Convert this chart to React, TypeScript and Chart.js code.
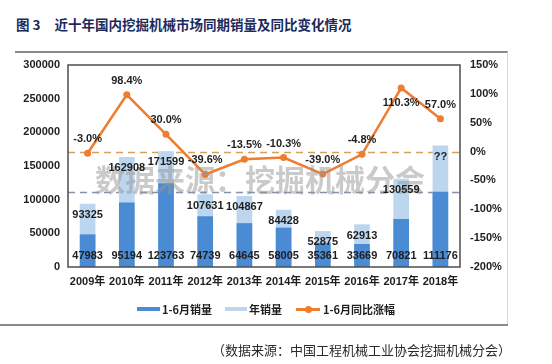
import React, { useEffect, useRef } from "react";
import { Chart, registerables } from "chart.js";

Chart.register(...registerables);

const years = ["2009年", "2010年", "2011年", "2012年", "2013年", "2014年", "2015年", "2016年", "2017年", "2018年"];
const h1Sales = [47983, 95194, 123763, 74739, 64645, 58005, 35361, 33669, 70821, 111176];
const annualSales = [93325, 162908, 171599, 107631, 104867, 84428, 52875, 62913, 130559, 180000];
const annualLabels = ["93325", "162908", "171599", "107631", "104867", "84428", "52875", "62913", "130559", "??"];
const h1Growth = [-3.0, 98.4, 30.0, -39.6, -13.5, -10.3, -39.0, -4.8, 110.3, 57.0];
const leftRefValues = [111176];
const rightRefValues = [0];

const NUM_FONT = "'Liberation Sans', Arial, 'Noto Sans CJK SC', sans-serif";
const CJK_FONT = "'Noto Sans CJK SC', 'Liberation Sans', sans-serif";

const DARK = "#4a8bd3";
const LIGHT = "#bdd6ef";
const ORANGE = "#ed7d31";

const overlayPlugin = {
  id: "overlay",
  beforeDatasetsDraw(chart: any) {
    const { ctx, chartArea: a, scales } = chart;
    ctx.save();
    ctx.setLineDash([7, 5]);
    ctx.lineWidth = 1.6;
    ctx.strokeStyle = "#8592a8";
    leftRefValues.forEach((v) => {
      const y = Math.round(scales.y.getPixelForValue(v)) + 0.5;
      ctx.beginPath();
      ctx.moveTo(a.left, y);
      ctx.lineTo(a.right, y);
      ctx.stroke();
    });
    ctx.strokeStyle = "#d6a060";
    rightRefValues.forEach((v) => {
      const y = Math.round(scales.y1.getPixelForValue(v)) + 0.5;
      ctx.beginPath();
      ctx.moveTo(a.left, y);
      ctx.lineTo(a.right, y);
      ctx.stroke();
    });
    ctx.restore();
  },
  afterDatasetsDraw(chart: any) {
    const { ctx, chartArea: a } = chart;
    ctx.save();
    // frame
    ctx.strokeStyle = "#4d4d4d";
    ctx.lineWidth = 1.5;
    ctx.strokeRect(a.left, a.top, a.right - a.left, a.bottom - a.top);

    // watermark
    ctx.font = `bold 30px ${CJK_FONT}`;
    ctx.fillStyle = "rgba(150,150,150,0.5)";
    ctx.textAlign = "left";
    ctx.textBaseline = "middle";
    ctx.fillText("数据来源：挖掘机械分会", 95, 180);

    ctx.fillStyle = "#1e1e1e";
    ctx.font = `bold 11px ${NUM_FONT}`;
    ctx.textAlign = "center";
    ctx.textBaseline = "middle";

    const annualMeta = chart.getDatasetMeta(2);
    annualMeta.data.forEach((el: any, i: number) => {
      ctx.fillText(annualLabels[i], el.x, el.y + 11);
    });
    const h1Meta = chart.getDatasetMeta(1);
    h1Meta.data.forEach((el: any, i: number) => {
      ctx.fillText(String(h1Sales[i]), el.x, a.bottom - 11);
    });
    const lineMeta = chart.getDatasetMeta(0);
    lineMeta.data.forEach((el: any, i: number) => {
      const txt = h1Growth[i].toFixed(1) + "%";
      const below = i === 8;
      ctx.fillText(txt, el.x, el.y + (below ? 15 : -14));
    });
    ctx.restore();
  },
};

function App() {
  const ref = useRef<HTMLCanvasElement | null>(null);

  useEffect(() => {
    if (!ref.current) return;
    const chart = new Chart(ref.current, {
      type: "bar",
      data: {
        labels: years,
        datasets: [
          {
            type: "line",
            label: "1-6月同比涨幅",
            data: h1Growth,
            yAxisID: "y1",
            borderColor: ORANGE,
            backgroundColor: ORANGE,
            borderWidth: 2.5,
            pointRadius: 3.5,
            pointBackgroundColor: ORANGE,
            pointBorderWidth: 0,
            tension: 0,
            order: 0,
          } as any,
          {
            type: "bar",
            label: "1-6月销量",
            data: h1Sales,
            yAxisID: "y",
            backgroundColor: DARK,
            barThickness: 15,
            grouped: false,
            order: 1,
          },
          {
            type: "bar",
            label: "年销量",
            data: annualSales,
            yAxisID: "y",
            backgroundColor: LIGHT,
            barThickness: 15,
            grouped: false,
            order: 2,
          },
        ],
      },
      options: {
        responsive: false,
        animation: false,
        layout: { padding: { top: 65, left: 0, right: 0, bottom: 0 } },
        plugins: { legend: { display: false }, tooltip: { enabled: false } },
        scales: {
          x: {
            offset: true,
            grid: { display: false, drawTicks: false },
            border: { display: false },
            ticks: { color: "#1e1e1e", font: { family: NUM_FONT, size: 11, weight: "bold" }, padding: 8, maxRotation: 0, autoSkip: false },
            afterFit: (s: any) => {
              s.height = 97;
            },
          },
          y: {
            position: "left",
            min: 0,
            max: 300000,
            grid: { display: false, drawTicks: false },
            border: { display: false },
            ticks: {
              stepSize: 50000,
              color: "#1e1e1e",
              font: { family: NUM_FONT, size: 11, weight: "bold" },
              padding: 8,
              callback: (v: any) => String(v),
            },
            afterFit: (s: any) => {
              s.width = 68;
            },
          },
          y1: {
            position: "right",
            min: -200,
            max: 150,
            grid: { display: false, drawTicks: false },
            border: { display: false },
            ticks: {
              stepSize: 50,
              color: "#1e1e1e",
              font: { family: NUM_FONT, size: 11, weight: "bold" },
              padding: 10,
              callback: (v: any) => `${v}%`,
            },
            afterFit: (s: any) => {
              s.width = 92;
            },
          },
        },
      } as any,
      plugins: [overlayPlugin],
    });
    return () => chart.destroy();
  }, []);

  const legendText: React.CSSProperties = {
    position: "absolute",
    top: 301,
    font: `bold 11px ${CJK_FONT}`,
    color: "#1e1e1e",
    lineHeight: "16px",
    whiteSpace: "nowrap",
  };

  return (
    <div style={{ position: "fixed", left: 0, top: 0, width: 552, height: 364, background: "#fff", overflow: "hidden" }}>
      <div
        style={{
          position: "absolute",
          left: 16,
          top: 15,
          font: `bold 13.5px ${CJK_FONT}`,
          color: "#1b2a5c",
          whiteSpace: "nowrap",
          lineHeight: "18px",
        }}
      >
        图 3<span style={{ display: "inline-block", width: 14 }} />近十年国内挖掘机械市场同期销量及同比变化情况
      </div>
      <div style={{ position: "absolute", left: 15, top: 51, width: 493, height: 1.5, background: "#8a8a8a" }} />
      <div style={{ position: "absolute", left: 507, top: 52, width: 1, height: 273, background: "#d6d6d6" }} />
      <div style={{ position: "absolute", left: 0, top: 324, width: 508, height: 1.5, background: "#8a8a8a" }} />
      <canvas ref={ref} width={552} height={364} style={{ position: "absolute", left: 0, top: 0, width: 552, height: 364 }} />
      {/* legend */}
      <div style={{ position: "absolute", left: 137, top: 307, width: 23, height: 4, background: DARK }} />
      <div style={{ ...legendText, left: 162 }}>1-6月销量</div>
      <div style={{ position: "absolute", left: 225, top: 307, width: 22, height: 4, background: LIGHT }} />
      <div style={{ ...legendText, left: 249 }}>年销量</div>
      <div style={{ position: "absolute", left: 296, top: 308, width: 24, height: 2.5, background: ORANGE }} />
      <div style={{ position: "absolute", left: 304.5, top: 305.5, width: 7, height: 7, borderRadius: "50%", background: ORANGE }} />
      <div style={{ ...legendText, left: 323 }}>1-6月同比涨幅</div>
      <div
        style={{
          position: "absolute",
          left: 212,
          top: 341,
          font: `13px ${CJK_FONT}`,
          color: "#2a2a2a",
          whiteSpace: "nowrap",
          lineHeight: "18px",
        }}
      >
        （数据来源：中国工程机械工业协会挖掘机械分会）
      </div>
    </div>
  );
}

export default App;
